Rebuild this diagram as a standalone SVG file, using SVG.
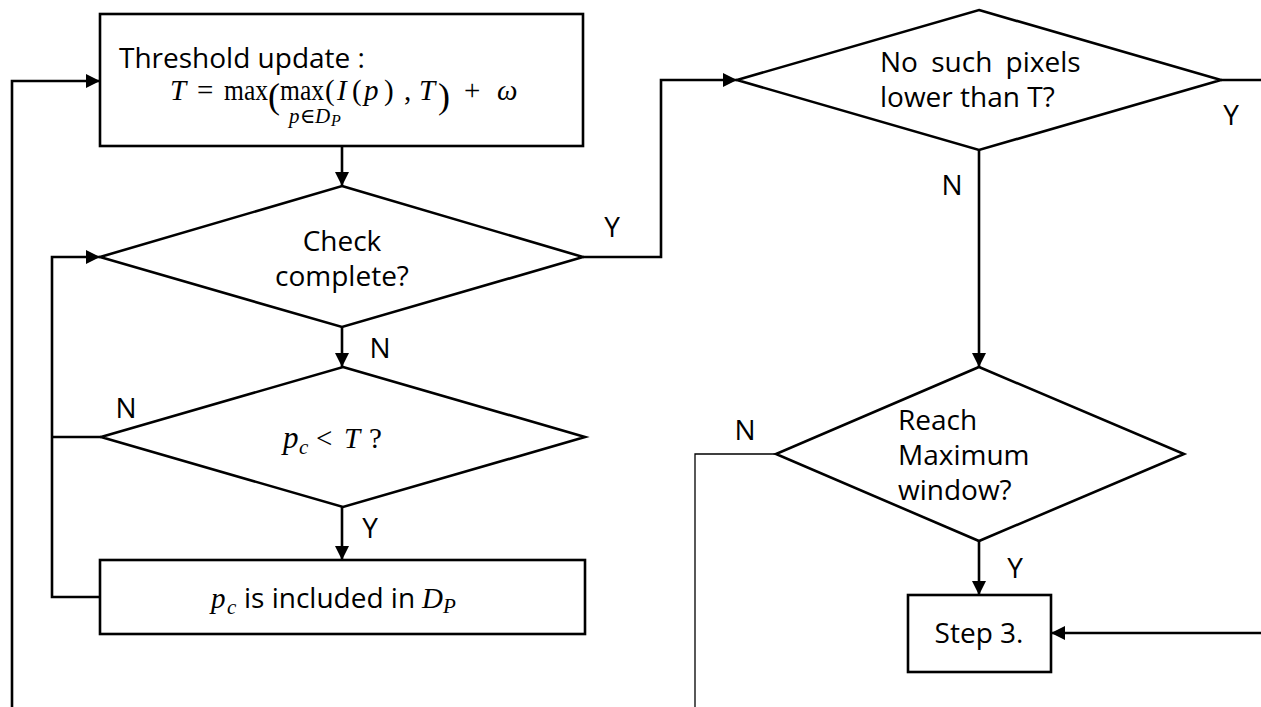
<svg xmlns="http://www.w3.org/2000/svg" width="1261" height="707" viewBox="0 0 1261 707">
  <defs>
    <marker id="arrow" markerUnits="userSpaceOnUse" markerWidth="14" markerHeight="14" viewBox="0 0 14 14" refX="14" refY="7" orient="auto">
      <path d="M0,0 L14,7 L0,14 Z" fill="#000"/>
    </marker>
    <style>
      .shape { fill: #fff; stroke: #000; stroke-width: 2.6; }
      .wire { fill: none; stroke: #000; stroke-width: 2.6; }
      .thin { fill: none; stroke: #000; stroke-width: 1.3; }
      .txt { font-family: "Open Sans", "Noto Sans", sans-serif; font-size: 28px; fill: #000; }
      .lbl { font-family: "Open Sans", "Noto Sans", sans-serif; font-size: 28px; fill: #000; text-anchor: middle; }
      .math { font-family: "Liberation Serif", "DejaVu Serif", serif; font-size: 29px; fill: #000; }
      .sub { font-family: "Liberation Serif", "DejaVu Serif", serif; font-size: 21px; fill: #000; }
      .it { font-style: italic; }
      .big { font-size: 36px; }
    </style>
  </defs>
  <rect width="1261" height="707" fill="#fff"/>

  <!-- connectors -->
  <g id="connectors">
    <path class="wire" d="M12,707 L12,81 L100,81" marker-end="url(#arrow)"/>
    <path class="wire" d="M342,146 L342,186" marker-end="url(#arrow)"/>
    <path class="wire" d="M342,327 L342,367" marker-end="url(#arrow)"/>
    <path class="wire" d="M342,507 L342,560" marker-end="url(#arrow)"/>
    <path class="wire" d="M100,597 L52,597 L52,257 L100,257" marker-end="url(#arrow)"/>
    <path class="wire" d="M101,437 L52,437"/>
    <path class="wire" d="M583,257 L661,257 L661,80 L737,80" marker-end="url(#arrow)"/>
    <path class="wire" d="M1221,80 L1261,80"/>
    <path class="wire" d="M979,150 L979,367" marker-end="url(#arrow)"/>
    <path class="wire" d="M979,541 L979,595" marker-end="url(#arrow)"/>
    <path class="thin" d="M776,454 L695,454 L695,707"/>
    <path class="wire" d="M1261,633 L1051,633" marker-end="url(#arrow)"/>

    <text class="lbl" x="612" y="237">Y</text>
    <text class="lbl" x="380" y="358">N</text>
    <text class="lbl" x="126" y="418">N</text>
    <text class="lbl" x="370" y="538">Y</text>
    <text class="lbl" x="1231" y="125">Y</text>
    <text class="lbl" x="952" y="195">N</text>
    <text class="lbl" x="745" y="440">N</text>
    <text class="lbl" x="1015" y="578">Y</text>
  </g>

  <!-- threshold update box -->
  <g id="threshold-update">
    <rect class="shape" x="100" y="14" width="483" height="132"/>
    <text class="txt" x="119" y="68">Threshold update :</text>
    <!-- T = max( max_{p∈D_P} (I(p), T) + ω -->
    <text class="math" y="100"><tspan class="it" x="170">T</tspan><tspan x="197">=</tspan><tspan x="224" textLength="44" lengthAdjust="spacingAndGlyphs">max</tspan><tspan class="big" x="268" dy="8">(</tspan><tspan x="280" dy="-8" textLength="44" lengthAdjust="spacingAndGlyphs">max</tspan><tspan x="325">(</tspan><tspan class="it" x="337">I</tspan><tspan x="352">(</tspan><tspan class="it" x="364">p</tspan><tspan x="384">)</tspan><tspan x="404">,</tspan><tspan class="it" x="419">T</tspan><tspan class="big" x="438" dy="8">)</tspan><tspan x="464" dy="-8">+</tspan><tspan class="it" x="497">ω</tspan></text>
    <text class="sub" y="123"><tspan class="it" x="289">p</tspan><tspan x="300">∈</tspan><tspan class="it" x="315">D</tspan><tspan class="it" x="331" dy="3" font-size="16">P</tspan></text>
  </g>

  <!-- check complete decision -->
  <g id="check-complete">
    <polygon class="shape" points="342,186 583,257 342,327 100,257"/>
    <text class="lbl" x="342" y="251">Check</text>
    <text class="lbl" x="342" y="286">complete?</text>
  </g>

  <!-- pc < T decision -->
  <g id="pc-below-threshold">
    <polygon class="shape" points="343,367 585,437 343,507 101,437"/>
    <text class="math" y="448"><tspan class="it" x="283" font-size="31">p</tspan><tspan class="it" x="299" dy="6" font-size="21">c</tspan><tspan x="316" dy="-6">&lt;</tspan><tspan class="it" x="344">T</tspan><tspan x="369">?</tspan></text>
  </g>

  <!-- include pc box -->
  <g id="include-pc">
    <rect class="shape" x="100" y="560" width="485" height="74"/>
    <text y="608"><tspan class="math it" x="211" font-size="31">p</tspan><tspan class="sub it" x="227" dy="6">c</tspan><tspan class="txt" x="244" dy="-6">is included in</tspan><tspan class="math it" x="422" font-size="30">D</tspan><tspan class="sub it" x="443" dy="5">P</tspan></text>
  </g>

  <!-- no lower pixels decision -->
  <g id="no-lower-pixels">
    <polygon class="shape" points="979,10 1221,80 979,150 737,80"/>
    <text class="txt" x="880" y="72" word-spacing="6">No such pixels</text>
    <text class="txt" x="880" y="107">lower than T?</text>
  </g>

  <!-- maximum window decision -->
  <g id="max-window">
    <polygon class="shape" points="979,367 1184,454 979,541 776,454"/>
    <text class="txt" x="898" y="430">Reach</text>
    <text class="txt" x="898" y="465">Maximum</text>
    <text class="txt" x="898" y="500">window?</text>
  </g>

  <!-- step 3 box -->
  <g id="step-3">
    <rect class="shape" x="908" y="595" width="143" height="77"/>
    <text class="lbl" x="979" y="643">Step 3.</text>
  </g>
</svg>
